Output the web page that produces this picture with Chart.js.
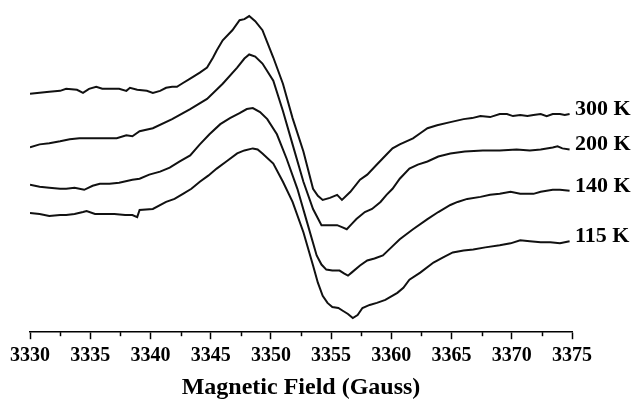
<!DOCTYPE html>
<html>
<head>
<meta charset="utf-8">
<script src="https://cdn.jsdelivr.net/npm/chart.js@4/dist/chart.umd.min.js"></script>
<style>
  html, body { margin: 0; padding: 0; background: #fff; }
  canvas { display: block; }
</style>
</head>
<body>
<canvas id="epr" width="638" height="399"></canvas>
<script>
// EPR spectra, [field (G), signal (a.u., stacked)]
const spectrum300K = [
  [3330.0,236],[3330.8,237],[3331.6,238],[3332.5,239],[3333.0,241],[3333.9,240],[3334.4,237],[3334.9,241],
  [3335.5,243],[3336.0,241],[3336.9,241],[3337.4,241],[3338.0,239],[3338.3,242],[3338.9,240],[3339.7,239],
  [3340.2,237],[3340.8,239],[3341.3,242],[3341.8,243],[3342.2,243],[3342.6,246],[3343.3,251],[3344.1,257],
  [3344.7,262],[3345.2,272],[3345.5,279],[3346.0,289],[3346.8,299],[3347.4,309],[3347.8,310],[3348.2,313],
  [3348.7,308],[3349.3,299],[3349.7,287],[3350.2,272],[3351.0,246],[3351.8,212],[3352.7,179],[3353.5,142],
  [3353.9,135],[3354.3,131],[3354.9,133],[3355.5,136],[3355.9,131],[3356.6,139],[3357.4,151],[3358.0,156],
  [3358.8,166],[3359.6,176],[3360.1,182],[3360.7,186],[3361.8,192],[3362.4,197],[3363.0,202],[3363.8,205],
  [3364.9,208],[3366.0,211],[3366.7,212],[3367.4,214],[3368.2,213],[3369.0,216],[3369.6,216],[3370.1,214],
  [3370.7,215],[3371.3,214],[3371.8,215],[3372.4,216],[3372.9,214],[3373.4,216],[3374.0,216],[3374.4,215],
  [3374.8,216]
];
const spectrum200K = [
  [3330.0,183],[3330.8,186],[3331.6,187],[3332.5,189],[3333.3,191],[3334.1,192],[3335.2,192],[3336.4,192],
  [3337.2,192],[3338.0,195],[3338.5,194],[3339.1,199],[3340.2,202],[3341.8,211],[3343.3,221],[3344.7,231],
  [3346.0,246],[3347.2,262],[3347.8,271],[3348.2,275],[3348.7,273],[3349.3,266],[3350.2,249],[3351.0,219],
  [3351.8,186],[3352.7,149],[3353.5,122],[3354.2,106],[3354.9,106],[3355.5,106],[3355.9,104],[3356.3,102],
  [3356.7,107],[3357.1,112],[3357.8,119],[3358.4,122],[3359.1,129],[3359.6,136],[3360.1,142],[3360.7,152],
  [3361.5,162],[3362.2,166],[3363.0,169],[3363.9,174],[3364.9,177],[3366.1,179],[3367.6,180],[3369.0,180],
  [3370.4,181],[3371.5,180],[3372.4,181],[3373.4,183],[3373.8,184],[3374.2,182],[3374.8,181]
];
const spectrum140K = [
  [3330.0,146],[3330.8,144],[3331.6,143],[3332.5,142],[3333.0,142],[3333.7,143],[3334.5,141],[3335.2,145],
  [3335.8,147],[3336.6,147],[3337.4,148],[3338.5,151],[3339.1,152],[3339.9,156],[3340.8,159],[3341.6,163],
  [3342.4,169],[3343.3,175],[3344.1,186],[3344.9,196],[3345.8,206],[3346.6,212],[3347.4,217],[3348.0,221],
  [3348.5,222],[3349.1,218],[3349.7,211],[3350.5,196],[3351.3,172],[3352.2,142],[3353.0,109],[3353.8,76],
  [3354.2,67],[3354.6,62],[3355.1,61],[3355.7,61],[3356.1,58],[3356.4,56],[3356.7,59],[3357.4,66],
  [3358.0,71],[3358.6,73],[3359.3,76],[3360.0,84],[3360.7,92],[3361.8,102],[3363.0,112],[3363.9,119],
  [3364.9,126],[3365.5,129],[3366.3,132],[3367.4,134],[3368.2,136],[3369.0,137],[3369.9,139],[3370.7,137],
  [3371.8,137],[3372.4,139],[3373.4,141],[3374.0,141],[3374.8,140]
];
const spectrum115K = [
  [3330.0,118],[3330.8,117],[3331.6,115],[3332.5,116],[3333.0,116],[3333.7,117],[3334.4,119],[3334.7,120],
  [3335.4,117],[3336.2,117],[3337.0,117],[3337.9,116],[3338.5,116],[3338.9,114],[3339.1,121],[3340.2,122],
  [3341.3,129],[3342.0,132],[3342.7,137],[3343.4,142],[3344.1,149],[3344.8,155],[3345.5,162],[3346.3,169],
  [3347.2,177],[3347.8,180],[3348.5,182],[3348.9,181],[3349.3,177],[3350.2,167],[3351.0,149],[3351.8,129],
  [3352.7,99],[3353.5,66],[3353.9,49],[3354.3,36],[3354.7,29],[3355.1,25],[3355.6,24],[3356.0,21],
  [3356.4,18],[3356.8,14],[3357.2,17],[3357.6,24],[3358.2,27],[3358.8,29],[3359.5,32],[3360.5,39],
  [3361.0,44],[3361.5,52],[3362.4,59],[3363.5,69],[3364.3,74],[3365.1,79],[3366.0,81],[3366.8,82],
  [3367.8,84],[3369.0,86],[3369.9,88],[3370.7,91],[3371.5,90],[3372.4,89],[3373.2,89],[3374.0,88],
  [3374.8,90]
];

const temperatures = ['300 K', '200 K', '140 K', '115 K'];
const spectra = [spectrum300K, spectrum200K, spectrum140K, spectrum115K];

const SERIF = '"Liberation Serif", "Times New Roman", serif';

// minor ticks halfway between the labelled ones, shorter than the major ticks
const minorTicks = {
  id: 'minorTicks',
  afterDraw(chart) {
    const x = chart.scales.x;
    const ctx = chart.ctx;
    ctx.save();
    ctx.strokeStyle = '#000';
    ctx.lineWidth = 1.5;
    for (let v = x.min + 2.5; v < x.max; v += 5) {
      const px = Math.round(x.getPixelForValue(v)) + 0.5;
      ctx.beginPath();
      ctx.moveTo(px, x.top);
      ctx.lineTo(px, x.top + 4);
      ctx.stroke();
    }
    ctx.restore();
  }
};

// temperature label at the right end of each trace
const traceLabels = {
  id: 'traceLabels',
  afterDatasetsDraw(chart) {
    const ctx = chart.ctx;
    const y = chart.scales.y;
    ctx.save();
    ctx.fillStyle = '#000';
    ctx.font = 'bold 22px ' + SERIF;
    ctx.textBaseline = 'middle';
    chart.data.datasets.forEach((ds) => {
      const last = ds.data[ds.data.length - 1];
      ctx.fillText(ds.label, chart.chartArea.right + 3, y.getPixelForValue(last[1]) - 5);
    });
    ctx.restore();
  }
};

new Chart(document.getElementById('epr'), {
  type: 'line',
  data: {
    datasets: spectra.map((points, i) => ({
      label: temperatures[i],
      data: points,
      borderColor: '#111',
      borderWidth: 2,
      pointRadius: 0,
      tension: 0,
      fill: false
    }))
  },
  options: {
    responsive: false,
    animation: false,
    devicePixelRatio: 1,
    layout: { padding: { left: 30, right: 66, top: 5, bottom: 0 } },
    plugins: {
      legend: { display: false },
      tooltip: { enabled: false }
    },
    scales: {
      x: {
        type: 'linear',
        min: 3330,
        max: 3375,
        border: { display: true, color: '#000', width: 1.5 },
        grid: { drawOnChartArea: false, drawTicks: true, tickLength: 7, tickColor: '#000', tickWidth: 1.5 },
        ticks: {
          stepSize: 5,
          color: '#000',
          padding: 5,
          maxRotation: 0,
          callback: (value) => String(value),
          font: { family: SERIF, size: 20, weight: 'bold' }
        },
        title: {
          display: true,
          text: 'Magnetic Field (Gauss)',
          color: '#000',
          padding: { top: 0, bottom: -3 },
          font: { family: SERIF, size: 24, weight: 'bold' }
        }
      },
      y: {
        display: false,
        min: 0,
        max: 324
      }
    }
  },
  plugins: [minorTicks, traceLabels]
});
</script>
</body>
</html>
